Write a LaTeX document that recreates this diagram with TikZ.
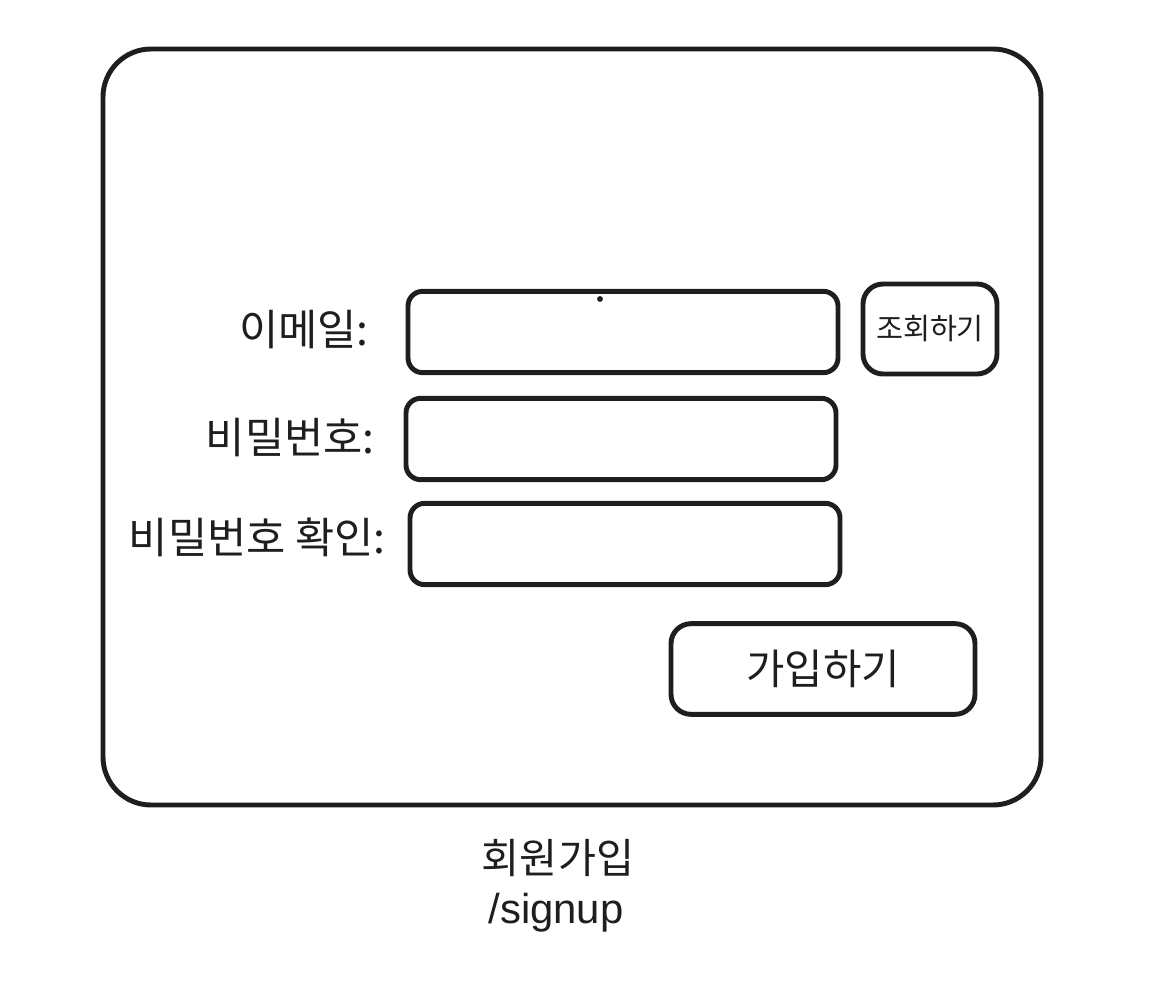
\documentclass[tikz,border=0pt]{standalone}
\usepackage{fontspec}
\setmainfont{Noto Sans CJK KR}
\newfontfamily\latfont{Liberation Sans}
\definecolor{ink}{HTML}{1E1E1E}
\tikzset{
  frame/.style={draw=ink, line width=3.7pt, rounded corners=#1},
  field/.style={frame=11pt, minimum width=322.5pt, minimum height=61pt, inner sep=0pt},
  btn/.style={frame=15pt, inner sep=0pt},
  lbl/.style={anchor=east, inner sep=0pt, text=ink, font=\fontsize{32pt}{38pt}\selectfont},
  captext/.style={inner sep=0pt, text=ink, font=\fontsize{31pt}{37pt}\selectfont},
}
\begin{document}
\begin{tikzpicture}[x=0.75pt, y=-0.75pt]
\useasboundingbox (0,0) rectangle (1174,998);
% outer screen frame
\node[frame=36pt, inner sep=0pt, minimum width=703.5pt, minimum height=567pt] (screen) at (572,427) {};
% input fields
\node[field] (email) at (623,332) {};
\node[field] (pw) at (621,439) {};
\node[field] (pwc) at (625,544) {};
% buttons
\node[btn, minimum width=100.5pt, minimum height=67.5pt, font=\fontsize{22pt}{26pt}\selectfont, text=ink] (check) at (930,329) {조회하기};
\node[btn, minimum width=228pt, minimum height=68pt, font=\fontsize{31.3pt}{37pt}\selectfont, text=ink] (join) at (823,669) {가입하기};
% cursor dot
\fill[ink] (600,299) circle (2.2pt);
% labels
\node[lbl] (lemail) at (369,330) {이메일:};
\node[lbl] (lpw) at (375,438) {비밀번호:};
\node[lbl] (lpwc) at (386,537) {비밀번호 확인:};
% caption
\node[captext] (title) at (558,858) {회원가입};
\node[captext, font=\latfont\fontsize{31.4pt}{37pt}\selectfont] (route) at (556,913) {/signup};
\end{tikzpicture}
\end{document}
